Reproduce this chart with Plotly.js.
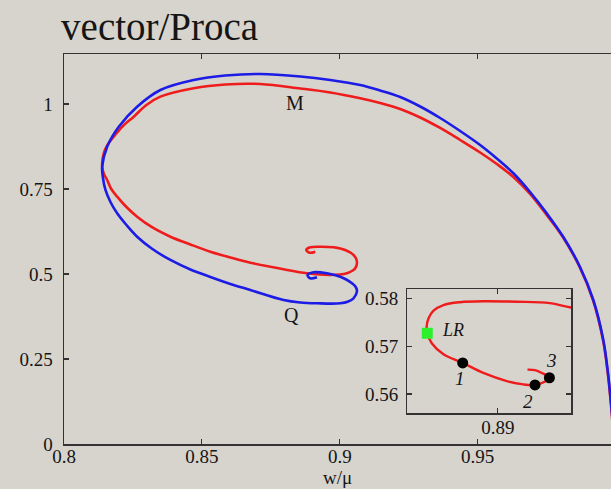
<!DOCTYPE html>
<html>
<head>
<meta charset="utf-8">
<script src="https://cdn.plot.ly/plotly-3.0.1.min.js"></script>
<style>html,body{margin:0;padding:0;background:#d7d4cd;overflow:hidden}</style>
</head>
<body>
<div id="chart" style="width:611px;height:489px"></div>
<script>
// Main plot: blue curve (Q)
const blueX = [1.0, 0.99928, 0.99837, 0.99728, 0.99558, 0.99196, 0.98714, 0.98109, 0.97507, 0.96902, 0.96297, 0.95696, 0.95091, 0.94366, 0.93641, 0.92917, 0.92192, 0.91467, 0.90743, 0.89656, 0.88569, 0.87120, 0.85851, 0.84703, 0.83496, 0.82652, 0.81986, 0.81565, 0.81384, 0.81413, 0.81504, 0.81685, 0.81928, 0.82264, 0.82652, 0.83207, 0.83859, 0.84583, 0.85308, 0.86033, 0.86757, 0.87964, 0.88569, 0.89174, 0.90018, 0.90308, 0.90500, 0.90623, 0.90580, 0.90442, 0.90236, 0.90018, 0.89536, 0.89051, 0.88833, 0.88931, 0.89174];
const blueY = [0.0, 0.0412, 0.1206, 0.2088, 0.3059, 0.4235, 0.5206, 0.6088, 0.6785, 0.7412, 0.7962, 0.8397, 0.8794, 0.9206, 0.9588, 0.9926, 1.0206, 1.0397, 1.0559, 1.0706, 1.0809, 1.0882, 1.0838, 1.0706, 1.0412, 0.9921, 0.9332, 0.8744, 0.8156, 0.7824, 0.7471, 0.7118, 0.6785, 0.6441, 0.6097, 0.5735, 0.5412, 0.5132, 0.4912, 0.4706, 0.4529, 0.4235, 0.4162, 0.4138, 0.4138, 0.4191, 0.4285, 0.4479, 0.4618, 0.4726, 0.4838, 0.4921, 0.5021, 0.5050, 0.4971, 0.4874, 0.4903];
// Main plot: red curve (M)
const redX = [1.0, 0.99920, 0.99830, 0.99721, 0.99547, 0.99185, 0.98699, 0.98090, 0.97493, 0.96902, 0.96297, 0.95696, 0.95091, 0.94366, 0.93641, 0.92917, 0.92192, 0.91467, 0.90743, 0.89656, 0.88569, 0.87120, 0.85851, 0.84703, 0.83496, 0.82989, 0.82529, 0.82120, 0.81804, 0.81576, 0.81442, 0.81384, 0.81449, 0.81565, 0.81703, 0.81928, 0.82228, 0.82652, 0.83207, 0.83859, 0.84583, 0.85308, 0.86033, 0.86757, 0.87964, 0.88812, 0.89656, 0.90261, 0.90471, 0.90562, 0.90623, 0.90500, 0.90199, 0.89775, 0.89293, 0.88931, 0.88786, 0.88906, 0.89112];
const redY = [0.0, 0.0412, 0.1206, 0.2088, 0.3059, 0.4235, 0.5206, 0.6088, 0.6750, 0.7353, 0.7853, 0.8235, 0.8574, 0.8941, 0.9294, 0.9603, 0.9853, 1.0029, 1.0168, 1.0338, 1.0456, 1.0588, 1.0574, 1.0462, 1.0215, 0.9971, 0.9626, 0.9338, 0.9038, 0.8794, 0.8550, 0.8156, 0.7941, 0.7765, 0.7515, 0.7274, 0.7000, 0.6685, 0.6368, 0.6097, 0.5868, 0.5656, 0.5485, 0.5332, 0.5138, 0.5021, 0.4971, 0.5021, 0.5103, 0.5168, 0.5362, 0.5559, 0.5706, 0.5785, 0.5803, 0.5785, 0.5706, 0.5626, 0.5656];
// Inset: red curve near the end of the spiral
const insetX = [0.8935, 0.89244, 0.89174, 0.89063, 0.88952, 0.88874, 0.88819, 0.88785, 0.88769, 0.88763, 0.88765, 0.88780, 0.88819, 0.88883, 0.88952, 0.89030, 0.89085, 0.89124, 0.89158, 0.89172, 0.89147, 0.89124, 0.89099];
const insetY = [0.5776, 0.5781, 0.5790, 0.5793, 0.5794, 0.5792, 0.5786, 0.5774, 0.5758, 0.5741, 0.5727, 0.5706, 0.5683, 0.5665, 0.5644, 0.5627, 0.5620, 0.5619, 0.5626, 0.5634, 0.5644, 0.5650, 0.5651];
// Inset marked points
const lrX = [0.88765];
const lrY = [0.5727];
const ptX = [0.88883, 0.89124, 0.89172];
const ptY = [0.5665, 0.5619, 0.5634];
const ptLabels = ['1', '2', '3'];
const ptLabelX = [0.88874, 0.89102, 0.89180];
const ptLabelY = [0.5633, 0.5584, 0.5671];

const RED = '#ee1c1c', BLUE = '#1c1ce6', INK = '#151515', AX = '#333333';
const SERIF = 'Liberation Serif, Times New Roman, serif';

const traces = [
  {x: redX, y: redY, mode: 'lines', line: {color: RED, width: 2.6, shape: 'spline', smoothing: 1}, xaxis: 'x', yaxis: 'y', hoverinfo: 'skip'},
  {x: blueX, y: blueY, mode: 'lines', line: {color: BLUE, width: 2.6, shape: 'spline', smoothing: 1}, xaxis: 'x', yaxis: 'y', hoverinfo: 'skip'},
  {x: insetX, y: insetY, mode: 'lines', line: {color: RED, width: 2.4, shape: 'spline', smoothing: 1}, xaxis: 'x2', yaxis: 'y2', hoverinfo: 'skip'},
  {x: lrX, y: lrY, mode: 'markers', marker: {symbol: 'square', size: 11, color: '#2cf02c'}, xaxis: 'x2', yaxis: 'y2', cliponaxis: false},
  {x: ptX, y: ptY, mode: 'markers', marker: {symbol: 'circle', size: 11, color: '#000000'}, xaxis: 'x2', yaxis: 'y2', cliponaxis: false}
];

const annotations = [
  {x: 0.88362, y: 1.0020, xref: 'x', yref: 'y', text: 'M', showarrow: false, font: {family: SERIF, size: 20, color: INK}},
  {x: 0.88268, y: 0.3794, xref: 'x', yref: 'y', text: 'Q', showarrow: false, font: {family: SERIF, size: 20, color: INK}},
  {x: 0.88852, y: 0.5734, xref: 'x2', yref: 'y2', text: '<i>LR</i>', showarrow: false, font: {family: SERIF, size: 18, color: INK}}
];
for (let i = 0; i < ptLabels.length; i++) {
  annotations.push({x: ptLabelX[i], y: ptLabelY[i], xref: 'x2', yref: 'y2', text: '<i>' + ptLabels[i] + '</i>', showarrow: false, font: {family: SERIF, size: 19, color: INK}});
}

const axisCommon = {
  showline: true, linecolor: AX, linewidth: 1.5, ticks: 'inside', ticklen: 5, tickwidth: 1.2, tickcolor: AX,
  showgrid: false, zeroline: false, tickfont: {family: SERIF, size: 19, color: INK}
};

const layout = {
  width: 611, height: 489,
  paper_bgcolor: '#d7d4cd', plot_bgcolor: 'rgba(0,0,0,0)',
  margin: {l: 63.5, r: 0, t: 54, b: 45, pad: 0},
  showlegend: false,
  title: {text: 'vector/Proca', x: 0.1, xanchor: 'left', xref: 'container', y: 0.947, yanchor: 'middle', yref: 'container', font: {family: SERIF, size: 39, color: INK}},
  xaxis: Object.assign({}, axisCommon, {range: [0.8, 0.99837], tick0: 0.8, dtick: 0.05, mirror: 'ticks', ticklabelstandoff: -5,
    title: {text: 'w/μ', standoff: 1, font: {family: SERIF, size: 19, color: INK}}}),
  yaxis: Object.assign({}, axisCommon, {range: [0, 1.147], tick0: 0, dtick: 0.25, mirror: false, ticklabelstandoff: 6}),
  xaxis2: Object.assign({}, axisCommon, {domain: [0.6279, 0.9269], anchor: 'y2', range: [0.88699, 0.89244], tick0: 0.89, dtick: 0.01, mirror: 'ticks', ticklabelstandoff: -4}),
  yaxis2: Object.assign({}, axisCommon, {domain: [0.0787, 0.3967], anchor: 'x2', range: [0.55596, 0.5819], tick0: 0.56, dtick: 0.01, mirror: 'ticks', ticklabelstandoff: 4}),
  annotations: annotations
};

Plotly.newPlot('chart', traces, layout, {staticPlot: true, displayModeBar: false});
</script>
</body>
</html>
